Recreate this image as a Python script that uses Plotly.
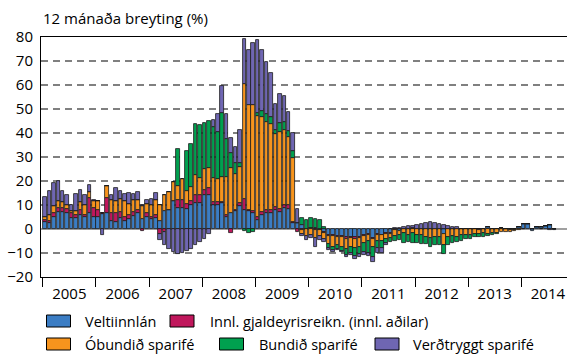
import plotly.graph_objects as go

# 12-month change in deposits (%), monthly Jan 2005 - Aug 2014
years = [str(y) for y in range(2005, 2015)]

veltiinnlan = [
    3.0, 2.5, 5.2, 6.9, 6.9, 6.6, 4.5, 4.5, 5.9, 5.2, 6.6, 5.2,          # 2005
    5.0, 6.3, 6.6, 3.5, 3.0, 4.5, 3.5, 4.0, 5.5, 6.5, 4.0, 5.0,          # 2006
    4.0, 4.5, 3.4, 7.3, 8.0, 11.5, 8.7, 8.7, 8.5, 10.0, 10.8, 10.8,      # 2007
    14.0, 14.3, 10.0, 10.0, 10.8, 5.2, 6.6, 7.3, 9.4, 8.0, 7.3, 6.6,     # 2008
    3.8, 6.0, 6.5, 6.6, 8.0, 7.0, 8.7, 8.5, 2.5, 2.4, 1.5, 0.0,          # 2009
    0.3, 0.5, -0.3, -1.2, -2.5, -2.5, -2.8, -3.0, -3.5, -3.2, -3.5, -3.3,  # 2010
    -2.5, -2.2, -3.9, -2.2, -2.5, -1.8, -1.8, -0.5, -0.8, 0.0, 0.0, 0.0,   # 2011
    0.0, 0.0, 0.0, 0.0, 0.0, 0.0, -2.2, 0.0, 0.0, 0.0, 0.0, 0.0,           # 2012
    0.0, 0.0, 0.0, 0.0, 1.0, 0.0, 0.0, 0.4, 0.0, -0.3, -0.4, 0.8,          # 2013
    2.0, 2.0, -1.0, 1.0, 1.0, 1.2, 1.5, -0.6,                              # 2014
]

gjaldeyrisreikn = [
    0.7, 0.8, 1.4, 1.9, 1.8, 1.8, 2.1, 1.4, 2.1, 0.7, 6.3, 3.5,
    3.0, 0.5, 6.3, 3.0, 3.5, 2.5, 1.5, 2.0, 1.5, 1.5, -0.8, 1.5,
    1.0, 1.3, -2.0, -1.3, 0.0, 0.0, 3.3, 3.3, 2.0, 1.5, 3.5, 3.5,
    2.4, 2.8, 1.2, 1.4, 0.5, 0.5, -1.8, 0.5, 1.4, 4.5, 0.7, 1.0,
    1.4, 1.0, 1.5, 1.4, 1.2, 1.5, 1.4, 1.7, 0.5, -1.1, -0.6, 0.0,
    0.0, -0.3, -0.3, -0.5, -0.4, -0.5, -0.4, -0.5, -0.5, -0.4, -0.6, -0.5,
    -0.5, -0.3, -0.3, -0.2, -0.2, -0.2, -0.1, 0.0, 0.0, 0.0, 0.0, 0.3,
    0.0, 0.0, 0.0, 0.0, 0.0, 0.0, 0.0, 0.0, 0.0, 0.0, 0.0, 0.0,
    0.0, 0.0, -0.3, 0.0, 0.0, 0.0, 0.0, 0.0, 0.0, 0.0, 0.0, 0.0,
    0.0, 0.0, 0.0, 0.0, 0.0, 0.0, 0.0, 0.0,
]

obundid = [
    1.2, 2.7, 2.8, 2.7, 2.4, 1.7, 1.0, 1.7, 3.2, 4.2, 2.5, 2.8,
    3.5, 0.0, 5.2, 5.5, 5.0, 5.5, 6.5, 4.5, 5.0, 4.0, 5.5, 4.0,
    5.0, 6.2, 6.4, 6.7, 7.5, 8.0, 6.0, 9.0, 5.5, 6.0, 8.4, 7.0,
    8.4, 8.4, 10.0, 9.5, 10.5, 16.0, 19.0, 15.0, 15.0, 48.0, 43.6, 44.0,
    42.0, 39.5, 36.6, 35.6, 30.2, 32.0, 31.0, 28.0, 26.5, 0.0, -1.5, -3.0,
    -2.5, -3.5, -2.5, -2.5, -3.5, -4.5, -3.5, -4.0, -4.2, -3.8, -4.0, -3.7,
    -3.0, -2.5, -3.3, -2.6, -2.3, -2.0, -2.0, -2.5, -1.7, -1.8, -2.5, -1.8,
    -2.5, -2.5, -3.3, -3.9, -3.2, -3.5, -4.5, -3.5, -3.0, -3.5, -2.5, -2.3,
    -2.5, -2.1, -1.8, -1.8, -2.2, -1.8, -1.6, -1.4, -1.3, -0.9, -0.6, -0.6,
    -0.2, 0.0, 0.0, 0.0, -0.2, 0.0, 0.0, 0.0,
]

bundid = [
    0.0, 0.0, 0.0, 0.0, 0.0, 0.0, 0.0, 0.0, 0.0, 0.0, 0.0, 0.0,
    0.0, 0.0, 0.0, 0.0, 0.0, 0.0, 0.0, 0.0, 0.0, 0.0, 0.0, 0.0,
    0.0, 0.0, 0.0, 0.0, 0.0, 0.0, 15.3, 0.0, 16.6, 17.9, 21.2, 22.1,
    19.5, 19.3, 21.5, 19.7, 26.6, 15.8, 6.0, 4.5, 1.5, -1.0, -1.5, -1.3,
    1.0, 2.5, 3.3, 3.0, 2.0, 3.5, 3.5, 2.6, 2.8, 0.0, 3.0, 3.8,
    4.2, 3.5, 3.8, 1.0, -1.5, -1.2, -1.5, -1.5, -2.5, -2.6, -3.0, -3.0,
    -3.5, -4.8, -4.2, -3.1, -3.1, -2.0, -1.7, -2.2, -2.1, -4.2, -2.8, -4.2,
    -3.5, -3.8, -3.0, -3.6, -3.5, -3.2, -3.6, -3.2, -3.0, -2.1, -2.5, -1.9,
    -1.5, -1.1, -1.1, -1.4, -0.8, -0.7, -0.4, 0.0, 0.0, 0.0, 0.0, 0.0,
    0.0, 0.0, 0.0, 0.0, 0.0, 0.0, 0.0, 0.0,
]

verdtryggt = [
    8.5, 10.0, 9.6, 8.5, 4.9, 3.9, 2.5, 7.0, 5.2, 4.2, 2.8, 0.5,
    0.0, -2.5, 0.0, 2.0, 5.5, 3.2, 3.0, 4.3, 2.6, 3.5, 0.6, 1.7,
    2.5, 2.8, -2.6, -5.2, -8.2, -9.6, -10.3, -9.8, -9.3, -8.2, -6.7, -5.3,
    -4.0, -2.2, 2.6, 7.4, 11.2, 10.5, 6.4, 7.0, 14.0, 18.8, 22.9, 26.0,
    30.4, 25.5, 21.7, 18.4, 10.6, 12.1, 10.8, 8.0, 7.8, 6.0, -1.0, -1.5,
    -1.2, -3.5, -1.5, -1.2, -1.0, -0.9, -0.7, -0.6, -1.0, -1.0, -1.3, -1.2,
    -1.2, -1.4, -2.1, -2.1, -2.1, -0.7, 0.0, 0.5, 0.5, 1.0, 1.3, 1.0,
    1.7, 2.2, 2.5, 2.8, 2.6, 2.0, 1.7, 1.2, 0.7, 0.9, 0.0, 0.0,
    0.0, 0.0, 0.0, 0.0, 0.0, 0.0, 0.0, 0.0, 0.0, 0.0, 0.0, 0.0,
    0.0, 0.0, 0.0, 0.0, 0.0, 0.0, -0.3, 0.0,
]

series = [
    ("Veltiinnlán", veltiinnlan, "#3b7dc4"),
    ("Innl. gjaldeyrisreikn. (innl. aðilar)", gjaldeyrisreikn, "#c0175c"),
    ("Óbundið sparifé", obundid, "#f7941d"),
    ("Bundið sparifé", bundid, "#00a04f"),
    ("Verðtryggt sparifé", verdtryggt, "#6f66b2"),
]

# x = month index (centre of each month slot), 0 = Jan 2005
months = [m + 0.5 for m in range(len(veltiinnlan))]

fig = go.Figure()
for name, vals, col in series:
    fig.add_bar(
        x=months, y=vals, name=name, width=0.8,
        marker=dict(color=col, line=dict(color="#1a1a1a", width=0.8)),
    )

FONT = "Open Sans"
W, H = 567, 356
L, R, T, B = 41, 0, 37, 79
pw, ph = W - L - R, H - T - B


def px_x(x):
    return (x - L) / pw


def px_y(y):
    return (H - B - y) / ph


fig.update_layout(
    width=W, height=H,
    margin=dict(l=L, r=R, t=T, b=B),
    barmode="relative", bargap=0,
    plot_bgcolor="white", paper_bgcolor="white",
    showlegend=False,
    font=dict(family=FONT, size=15, color="black"),
)

fig.update_xaxes(
    range=[-0.4, 118.3],
    tickmode="array",
    tickvals=[6 + 12 * i for i in range(len(years))],
    ticktext=years,
    ticks="outside", ticklen=3, tickcolor="rgba(0,0,0,0)",
    tickfont=dict(size=15),
    minor=dict(tickmode="array", tickvals=[12 * i for i in range(len(years))],
               ticks="outside", ticklen=9, tickcolor="black", tickwidth=1),
    showgrid=False, zeroline=False,
    showline=True, linecolor="black", linewidth=1, mirror=True,
)

fig.update_yaxes(
    range=[-20, 80],
    tickmode="array", tickvals=list(range(-20, 81, 10)),
    ticks="outside", ticklen=4, tickcolor="rgba(0,0,0,0)",
    tickfont=dict(size=15),
    showgrid=True, gridcolor="#808080", gridwidth=1.6, griddash="7px,5px",
    zeroline=True, zerolinecolor="#a0a0a0", zerolinewidth=1.5,
    showline=True, linecolor="black", linewidth=1,
)

fig.add_annotation(
    text="12 mánaða breyting (%)", xref="paper", yref="paper",
    x=px_x(41), y=px_y(18), xanchor="left", yanchor="middle",
    showarrow=False, font=dict(family=FONT, size=15),
)

# legend drawn as two rows of swatches and labels below the axis
legend_items = [
    (0, 46.5, 83, 321),
    (1, 170, 208, 321),
    (2, 46.5, 83, 344),
    (3, 219.5, 256.5, 344),
    (4, 375, 411, 344),
]
for idx, bx, tx, cy in legend_items:
    name, _, col = series[idx]
    fig.add_shape(
        type="rect", xref="paper", yref="paper",
        x0=px_x(bx), x1=px_x(bx + 24), y0=px_y(cy - 6), y1=px_y(cy + 6),
        fillcolor=col, line=dict(color="black", width=1),
    )
    fig.add_annotation(
        text=name, xref="paper", yref="paper",
        x=px_x(tx), y=px_y(cy), xanchor="left", yanchor="middle",
        showarrow=False, font=dict(family=FONT, size=14.5),
    )

fig.write_html("out.html")
